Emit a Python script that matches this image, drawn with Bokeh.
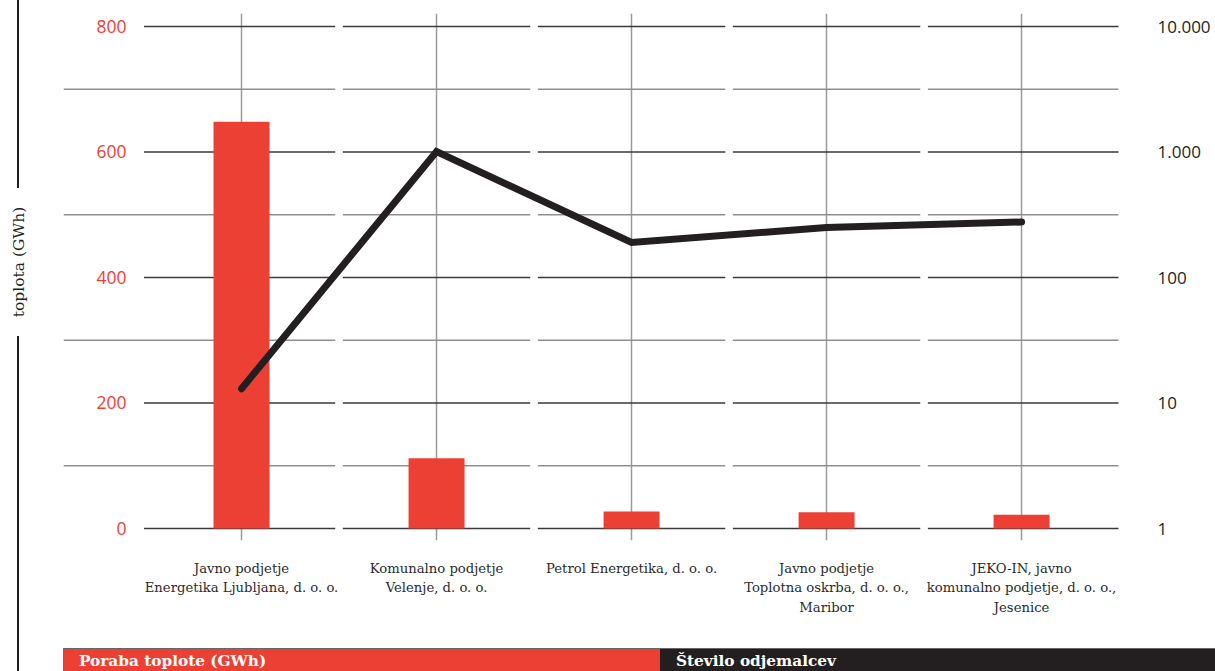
from bokeh.plotting import figure
from bokeh.models import (Range1d, LinearAxis, LogAxis, LogScale, FixedTicker, Grid, Div)
from bokeh.layouts import row, column
from bokeh.embed import file_html
from bokeh.resources import INLINE

# ---------------- data ----------------
companies = [
    "Javno podjetje\nEnergetika Ljubljana, d. o. o.",
    "Komunalno podjetje\nVelenje, d. o. o.",
    "Petrol Energetika, d. o. o.",
    "Javno podjetje\nToplotna oskrba, d. o. o.,\nMaribor",
    "JEKO-IN, javno\nkomunalno podjetje, d. o. o.,\nJesenice",
]
heat_gwh = [648, 112, 27, 26, 22]            # Poraba toplote (GWh)
customers = [13, 1010, 190, 250, 277]        # Število odjemalcev (log scale)
left_major = [0, 200, 400, 600, 800]
left_minor = [100, 300, 500, 700]
left_labels = ["0", "200", "400", "600", "800"]
right_ticks = [1, 10, 100, 1000, 10000]
right_labels = ["1", "10", "100", "1.000", "10.000"]
series_names = ["Poraba toplote (GWh)", "Število odjemalcev"]
y_title = "toplota (GWh)"

RED = "#ed4035"
DARK = "#231f20"

n = len(companies)
xs = list(range(n))

X_START, X_END = -0.9128, 4.497
p = figure(width=1152, height=648,
           x_range=Range1d(X_START, X_END), y_range=Range1d(-19.12, 820.7),
           x_axis_type=None, y_axis_type=None,
           output_backend="svg", toolbar_location=None,
           min_border_left=0, min_border_right=97, min_border_top=13, min_border_bottom=108)
p.outline_line_color = None
p.background_fill_color = "white"
p.border_fill_color = "white"

p.extra_y_ranges = {"log": Range1d(0.8024, 12695)}
p.extra_y_scales = {"log": LogScale()}

# vertical grid at categories
p.add_layout(Grid(dimension=0, ticker=FixedTicker(ticks=xs),
                  grid_line_color="#9a9a9a", grid_line_width=1.5))

# horizontal grid segments with gaps between categories
gap = 0.0195
def segs(values, first_start):
    x0, x1, y = [], [], []
    for v in values:
        for i in xs:
            x0.append(first_start if i == 0 else i - 0.5 + gap)
            x1.append(4.5 if i == n - 1 else i + 0.5 - gap)
            y.append(v)
    return x0, x1, y

mx0, mx1, my = segs(left_minor, X_START)
p.segment(x0=mx0, x1=mx1, y0=my, y1=my, line_color="#8f8f8f", line_width=1.5)
Mx0, Mx1, My = segs(left_major, -0.5)
p.segment(x0=Mx0, x1=Mx1, y0=My, y1=My, line_color="#3a3a3a", line_width=1.5)

# bars
p.vbar(x=xs, top=heat_gwh, bottom=0, width=0.287, fill_color=RED, line_color=None)

# line on log scale
p.line(x=xs, y=customers, y_range_name="log", line_color=DARK, line_width=7,
       line_join="miter", line_cap="round")

# axes
xaxis = LinearAxis(ticker=FixedTicker(ticks=xs),
                   major_label_overrides={i: c for i, c in enumerate(companies)})
xaxis.axis_line_color = None
xaxis.major_tick_line_color = None
xaxis.minor_tick_line_color = None
xaxis.major_tick_out = 0
xaxis.major_label_standoff = 20
xaxis.major_label_text_font = "DejaVu Serif"
xaxis.major_label_text_font_size = "13.2px"
xaxis.major_label_text_color = "#2b2b2b"
xaxis.major_label_text_line_height = 1.32
p.add_layout(xaxis, "below")

laxis = LinearAxis(ticker=FixedTicker(ticks=left_major),
                   major_label_overrides={v: l for v, l in zip(left_major, left_labels)})
laxis.axis_line_color = None
laxis.major_tick_line_color = None
laxis.minor_tick_line_color = None
laxis.major_tick_out = 0
laxis.major_tick_in = 0
laxis.major_label_standoff = -63
laxis.major_label_text_font = "Open Sans"
laxis.major_label_text_font_size = "17.5px"
laxis.major_label_text_color = RED
p.add_layout(laxis, "left")

raxis = LogAxis(y_range_name="log", ticker=FixedTicker(ticks=right_ticks),
                major_label_overrides={v: l for v, l in zip(right_ticks, right_labels)})
raxis.axis_line_color = None
raxis.major_tick_line_color = None
raxis.minor_tick_line_color = None
raxis.major_tick_out = 0
raxis.major_tick_in = 0
raxis.major_label_standoff = 39
raxis.major_label_text_font = "Open Sans"
raxis.major_label_text_font_size = "17px"
raxis.major_label_text_color = DARK
p.add_layout(raxis, "right")

left_html = f"""
<div style="position:relative;width:63px;height:671px;overflow:hidden;">
  <div style="position:absolute;left:17px;top:0px;width:1.5px;height:188px;background:{DARK};"></div>
  <div style="position:absolute;left:17px;top:336px;width:1.5px;height:335px;background:{DARK};"></div>
  <div style="position:absolute;left:-81px;top:252px;width:200px;height:20px;line-height:20px;
              text-align:center;transform:rotate(-90deg);transform-origin:50% 50%;
              font-family:'DejaVu Serif';font-size:15.5px;color:{DARK};white-space:nowrap;">{y_title}</div>
</div>"""
left_div = Div(text=left_html, width=63, height=671, margin=0)

band_html = f"""
<div style="display:flex;width:1152px;height:23px;box-sizing:border-box;border-top:1px solid #666;
            overflow:hidden;font-family:'DejaVu Serif';font-weight:bold;font-size:15.3px;color:#ffffff;">
  <div style="width:597px;background:{RED};padding-left:16px;line-height:20px;padding-top:2px;box-sizing:border-box;white-space:nowrap;">{series_names[0]}</div>
  <div style="flex:1;background:{DARK};padding-left:16px;line-height:20px;padding-top:2px;box-sizing:border-box;white-space:nowrap;">{series_names[1]}</div>
</div>"""
band_div = Div(text=band_html, width=1152, height=23, margin=0)

layout = row(left_div, column(p, band_div, spacing=0), spacing=0)

open("out.html", "w").write(file_html(layout, INLINE))
